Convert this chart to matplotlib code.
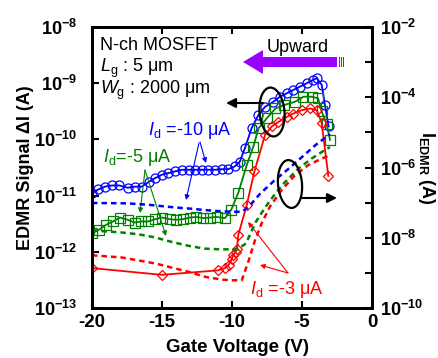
import numpy as np
import matplotlib
matplotlib.use('Agg')
import matplotlib.pyplot as plt
from matplotlib.patches import Ellipse, Polygon, Rectangle
from matplotlib.transforms import IdentityTransform
from matplotlib.ticker import FixedLocator, FixedFormatter, NullLocator

plt.rcParams['font.family'] = ['Liberation Sans', 'DejaVu Sans']
plt.rcParams['mathtext.fontset'] = 'custom'
plt.rcParams['mathtext.rm'] = 'Liberation Sans'
plt.rcParams['mathtext.it'] = 'Liberation Sans:italic'
plt.rcParams['mathtext.bf'] = 'Liberation Sans:bold'
plt.rcParams['axes.unicode_minus'] = False

# ---------------- data (log10 of current in A) ----------------
# EDMR signal dI (left axis), Id = -10 uA
vg_10 = [-20, -19.55, -19.07, -18.6, -18.05, -17.45, -16.95, -16.45, -15.9, -15.5,
         -15.03, -14.55, -14.08, -13.55, -13.1, -12.64, -12.16, -11.7, -11.2, -10.74,
         -10.27, -9.8, -9.45, -9.07, -8.6, -8.12, -7.64, -7.05, -6.57, -6.09,
         -5.62, -5.14, -4.66, -4.19, -3.95, -3.59, -3.36, -3.1]
dI_10_log = [-10.96, -10.89, -10.84, -10.82, -10.82, -10.86, -10.84, -10.84, -10.75, -10.69,
             -10.63, -10.60, -10.57, -10.54, -10.54, -10.54, -10.54, -10.54, -10.54, -10.53,
             -10.53, -10.48, -10.40, -10.15, -9.80, -9.57, -9.42, -9.33, -9.24, -9.18,
             -9.12, -9.06, -9.00, -8.94, -8.91, -9.03, -9.39, -9.77]
# Id = -5 uA
vg_5 = [-20, -19.5, -19.0, -18.5, -18.0, -17.45, -16.95, -16.5, -16.0, -15.5,
        -15.0, -14.45, -14.0, -13.5, -13.0, -12.55, -12.05, -11.55, -11.1, -10.5,
        -10.05, -9.55, -8.95, -8.48, -8.1, -7.5, -6.9, -6.3, -5.5, -4.9,
        -4.3, -3.85, -3.6, -3.25, -3.0]
dI_5_log = [-11.67, -11.61, -11.52, -11.46, -11.39, -11.43, -11.48, -11.46, -11.46, -11.42,
            -11.39, -11.42, -11.43, -11.42, -11.39, -11.38, -11.40, -11.39, -11.38, -11.40,
            -11.25, -10.95, -10.46, -10.13, -9.80, -9.62, -9.45, -9.39, -9.33, -9.24,
            -9.24, -9.27, -9.50, -9.72, -10.01]
# Id = -3 uA
vg_3 = [-20, -15, -11.0, -10.5, -10.25, -10.0, -9.9, -9.75, -9.65, -9.55,
        -8.95, -8.4, -7.64, -7.16, -6.69, -6.09, -5.62, -5.02, -4.43, -3.95,
        -3.6, -3.12]
dI_3_log = [-12.29, -12.41, -12.33, -12.29, -12.24, -12.12, -12.05, -12.00, -11.95, -11.70,
            -11.17, -10.57, -9.92, -9.77, -9.69, -9.60, -9.54, -9.48, -9.45, -9.48,
            -9.70, -10.65]

# I_EDMR (right axis)
vg_e10 = [-20, -17.5, -16, -15, -14, -13, -12, -11, -10, -9.3, -8.8, -8.0, -7.0, -6.0, -5.0, -4.0, -3.0]
ie_10_log = [-7.01, -7.02, -7.06, -7.10, -7.14, -7.17, -7.21, -7.24, -7.26, -7.26, -7.12, -6.75, -6.38, -6.05, -5.70, -5.35, -5.05]
vg_e5 = [-20, -19.3, -17.9, -16.7, -15.5, -14.3, -13.1, -11.95, -10.76, -10.05, -9.6, -9.0, -8.3, -7.6, -6.9, -6.2, -5.25, -4.3, -3.35, -3.0]
ie_5_log = [-7.78, -7.81, -7.85, -7.90, -7.99, -8.12, -8.23, -8.31, -8.33, -8.33, -8.33, -8.16, -7.55, -7.12, -6.74, -6.41, -6.03, -5.74, -5.50, -5.42]
vg_e3 = [-20, -17.9, -15.5, -13.1, -11.95, -10.76, -10.05, -9.3, -8.8, -8.36, -7.88, -7.3, -6.45, -5.5, -4.55, -3.6, -3.0]
ie_3_log = [-8.50, -8.56, -8.73, -8.97, -9.11, -9.19, -9.21, -9.21, -8.64, -8.07, -7.59, -7.12, -6.64, -6.22, -5.93, -5.75, -5.65]

x_ticks = [-20, -15, -10, -5, 0]
x_ticklabels = ['-20', '-15', '-10', '-5', '0']
left_exps = [-13, -12, -11, -10, -9, -8]
right_exps = [-10, -9, -8, -7, -6, -5, -4, -3, -2]
right_label_exps = [-10, -8, -6, -4, -2]

BLUE = '#0000ff'
GREEN = '#008000'
RED = '#ff0000'
PURPLE = '#9a00ff'

W, H = 438, 358
L, R, T, B = 92, 372, 27, 308

fig = plt.figure(figsize=(W / 100, H / 100), dpi=100)
ax = fig.add_axes([L / W, 1 - B / H, (R - L) / W, (B - T) / H])
ax2 = ax.twinx()

def P(x, y):
    return (x, H - y)

# solid + markers on left axis
ax.plot(vg_10, 10 ** np.array(dI_10_log), '-', color=BLUE, lw=1.3, marker='o', ms=6.5,
        mfc='none', mec=BLUE, mew=0.9)
ax.plot(vg_5, 10 ** np.array(dI_5_log), '-', color=GREEN, lw=1.3, marker='s', ms=7.5,
        mfc='none', mec=GREEN, mew=0.9)
ax.plot(vg_3, 10 ** np.array(dI_3_log), '-', color=RED, lw=1.3, marker='D', ms=5.5,
        mfc='none', mec=RED, mew=0.9)

# dashed on right axis
for vg, lg, c in [(vg_e10, ie_10_log, BLUE), (vg_e5, ie_5_log, GREEN), (vg_e3, ie_3_log, RED)]:
    ax2.plot(vg, 10 ** np.array(lg), color=c, lw=1.8, ls=(0, (2.2, 1.6)))

ax.set_xlim(-20, 0)
ax.set_yscale('log')
ax.set_ylim(1e-13, 1e-8)
ax2.set_yscale('log')
ax2.set_ylim(1e-10, 1e-2)

ax.set_xticks(x_ticks)
ax.set_xticklabels(x_ticklabels, fontweight='bold', fontsize=13.5)
ax.yaxis.set_major_locator(FixedLocator([10.0 ** e for e in left_exps]))
ax.yaxis.set_major_formatter(FixedFormatter([r'$\mathbf{10^{%d}}$' % e for e in left_exps]))
ax.yaxis.set_minor_locator(NullLocator())
ax2.yaxis.set_major_locator(FixedLocator([10.0 ** e for e in right_exps]))
ax2.yaxis.set_major_formatter(FixedFormatter(
    [r'$\mathbf{10^{%d}}$' % e if e in right_label_exps else '' for e in right_exps]))
ax2.yaxis.set_minor_locator(NullLocator())

ax.tick_params(axis='x', direction='in', top=True, bottom=True, length=5, width=1.5, pad=4)
ax.tick_params(axis='y', direction='in', left=True, length=5, width=1.5, labelsize=13, pad=11)
ax2.tick_params(axis='y', direction='in', right=True, length=5, width=1.5, labelsize=13, pad=6)
for a in (ax, ax2):
    for s in a.spines.values():
        s.set_linewidth(2)

# axis labels
fig.text(26 / W, 1 - 168 / H, 'EDMR Signal ΔI (A)', rotation=90, ha='center', va='center',
         fontsize=13, fontweight='bold')
fig.text(238 / W, 1 - 347 / H, 'Gate Voltage (V)', ha='center', va='center',
         fontsize=13.5, fontweight='bold')
fig.text(426 / W, 1 - 168 / H, r'$\mathbf{I}_{\mathbf{EDMR}}$ (A)', rotation=270, ha='center',
         va='center', fontsize=13, fontweight='bold')

# device text
fig.text(100 / W, 1 - 50 / H, 'N-ch MOSFET', ha='left', va='baseline', fontsize=13)
fig.text(100 / W, 1 - 72 / H, r'$L_{\mathrm{g}}$ : 5 μm', ha='left', va='baseline', fontsize=13)
fig.text(100 / W, 1 - 94 / H, r'$W_{\mathrm{g}}$ : 2000 μm', ha='left', va='baseline', fontsize=13)

# series labels
fig.text(148 / W, 1 - 135 / H, r'$I_{\mathrm{d}}$ =-10 μA', color=BLUE, ha='left', va='baseline', fontsize=13)
fig.text(103 / W, 1 - 162 / H, r'$I_{\mathrm{d}}$=-5 μA', color=GREEN, ha='left', va='baseline', fontsize=13)
fig.text(250 / W, 1 - 294 / H, r'$I_{\mathrm{d}}$ =-3 μA', color=RED, ha='left', va='baseline', fontsize=13)

# pointer arrows
def pointer(src, dst, c):
    ax.annotate('', xy=P(*dst), xytext=P(*src), xycoords='figure pixels',
                textcoords='figure pixels',
                arrowprops=dict(arrowstyle='-|>', color=c, lw=0.8, mutation_scale=7,
                                shrinkA=0, shrinkB=0))

pointer((200, 142), (206, 163), BLUE)
pointer((199, 143), (186, 200), BLUE)
pointer((145, 170), (140, 213), GREEN)
pointer((145, 170), (166, 236), GREEN)
pointer((288, 273), (248, 222), RED)
pointer((288, 273), (260, 265), RED)

# ellipses and black arrows
ident = IdentityTransform()
e1 = Ellipse(P(272, 112), 25, 49, angle=5, fill=False, ec='black', lw=1.6,
             transform=ident, clip_on=False)
e2 = Ellipse(P(290, 184), 24, 48, angle=5, fill=False, ec='black', lw=1.6,
             transform=ident, clip_on=False)
fig.add_artist(e1)
fig.add_artist(e2)
for src, dst in [((263, 103), (226, 103)), ((302, 198), (337, 198))]:
    ax.annotate('', xy=P(*dst), xytext=P(*src), xycoords='figure pixels',
                textcoords='figure pixels',
                arrowprops=dict(arrowstyle='-|>', color='black', lw=1.5, mutation_scale=14,
                                shrinkA=0, shrinkB=0))

# Upward purple arrow
arrow_pts = [P(243, 62), P(263, 50), P(263, 57), P(337, 57), P(337, 67), P(263, 67), P(263, 74)]
fig.add_artist(Polygon(arrow_pts, closed=True, fc=PURPLE, ec='none', transform=ident))
for xs in (338.5, 340.5, 342.5):
    x0, y0 = P(xs, 67)
    fig.add_artist(Rectangle((x0, y0), 1, 10, fc=PURPLE, ec='none', transform=ident))
fig.text(267 / W, 1 - 52 / H, 'Upward', ha='left', va='baseline', fontsize=13)

fig.savefig('out.png', dpi=100)
